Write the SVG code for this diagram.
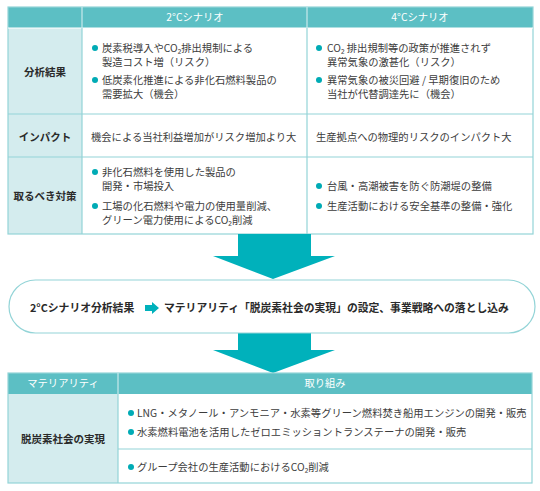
<svg xmlns="http://www.w3.org/2000/svg" width="540" height="491" viewBox="0 0 540 491">
<style>
text{font-family:"Noto Sans CJK JP","Noto Sans",sans-serif;fill:#3c3c3c}
.b{font-size:10.3px}
.h{font-size:10.3px;fill:#fff;text-anchor:middle}
.l{font-size:10.5px;font-weight:bold;text-anchor:middle;fill:#2a2a2a}
.m{font-size:10.8px;font-weight:bold;fill:#2a2a2a}
.hd{fill:#5cbfc4}
.lb{fill:#d4ecee}
.ln{stroke:#93d4d7;stroke-width:1.2;fill:none}
.dot{fill:#00abb5}
.ar{fill:#00b1bb}
</style>
<rect width="540" height="491" fill="#fff"/>

<g id="top-table">
<rect class="hd" x="8" y="7" width="525" height="21"/>
<rect class="lb" x="8" y="28" width="74" height="206"/>
<rect class="ln" x="8" y="7" width="525" height="227"/>
<line class="ln" x1="8" y1="28" x2="533" y2="28" style="stroke:#fff"/>
<line class="ln" x1="82" y1="7" x2="82" y2="28" style="stroke:#c8eaec"/>
<line class="ln" x1="307" y1="7" x2="307" y2="28" style="stroke:#c8eaec"/>
<line class="ln" x1="82" y1="28" x2="82" y2="234"/>
<line class="ln" x1="307" y1="28" x2="307" y2="234"/>
<line class="ln" x1="8" y1="114" x2="533" y2="114"/>
<line class="ln" x1="8" y1="157" x2="533" y2="157"/>
<text class="h" x="195" y="21">2°Cシナリオ</text>
<text class="h" x="420" y="21">4°Cシナリオ</text>
</g>

<g id="row-analysis">
<text class="l" x="45" y="76">分析結果</text>
<circle class="dot" cx="95" cy="48" r="3"/>
<text class="b" x="102" y="52">炭素税導入やCO₂排出規制による</text>
<text class="b" x="102" y="66">製造コスト増（リスク）</text>
<circle class="dot" cx="95" cy="80" r="3"/>
<text class="b" x="102" y="84">低炭素化推進による非化石燃料製品の</text>
<text class="b" x="102" y="98">需要拡大（機会）</text>
<circle class="dot" cx="319" cy="48" r="3"/>
<text class="b" x="327" y="52">CO₂ 排出規制等の政策が推進されず</text>
<text class="b" x="327" y="66">異常気象の激甚化（リスク）</text>
<circle class="dot" cx="319" cy="80" r="3"/>
<text class="b" x="327" y="84">異常気象の被災回避 / 早期復旧のため</text>
<text class="b" x="327" y="98">当社が代替調達先に（機会）</text>
</g>

<g id="row-impact">
<text class="l" x="45" y="141">インパクト</text>
<text class="b" x="91" y="141">機会による当社利益増加がリスク増加より大</text>
<text class="b" x="316" y="141">生産拠点への物理的リスクのインパクト大</text>
</g>

<g id="row-measures">
<text class="l" x="45" y="200">取るべき対策</text>
<circle class="dot" cx="95" cy="172" r="3"/>
<text class="b" x="102" y="176">非化石燃料を使用した製品の</text>
<text class="b" x="102" y="190">開発・市場投入</text>
<circle class="dot" cx="95" cy="206" r="3"/>
<text class="b" x="102" y="209.5">工場の化石燃料や電力の使用量削減、</text>
<text class="b" x="102" y="224">グリーン電力使用によるCO₂削減</text>
<circle class="dot" cx="319" cy="186" r="3"/>
<text class="b" x="327" y="190">台風・高潮被害を防ぐ防潮堤の整備</text>
<circle class="dot" cx="319" cy="206" r="3"/>
<text class="b" x="327" y="210">生産活動における安全基準の整備・強化</text>
</g>

<g id="connectors">
<polygon class="ar" points="238,234 311,234 311,256 335,256 273,279 213,256 238,256"/>
<polygon class="ar" points="238,333 311,333 311,350 335,350 273,373 213,350 238,350"/>
</g>

<g id="conclusion">
<rect x="9" y="280" width="526" height="53" rx="26.5" fill="#fff" stroke="#93d4d7" stroke-width="1.2"/>
<text class="m" x="30" y="312">2°Cシナリオ分析結果</text>
<polygon class="ar" points="145,305 152,305 152,302 159,308 152,314 152,311 145,311"/>
<text class="m" x="164" y="312">マテリアリティ「脱炭素社会の実現」の設定、事業戦略への落とし込み</text>
</g>

<g id="bottom-table">
<rect class="hd" x="8" y="373" width="524" height="21"/>
<rect class="lb" x="8" y="394" width="110" height="89"/>
<rect class="ln" x="8" y="373" width="524" height="110"/>
<line class="ln" x1="118" y1="373" x2="118" y2="394" style="stroke:#c8eaec"/>
<line class="ln" x1="118" y1="394" x2="118" y2="483"/>
<line class="ln" x1="118" y1="449" x2="532" y2="449"/>
<text class="h" x="63" y="387">マテリアリティ</text>
<text class="h" x="325" y="387">取り組み</text>
<text class="l" x="63" y="443">脱炭素社会の実現</text>
<circle class="dot" cx="131" cy="413" r="3"/>
<text class="b" x="137" y="417">LNG・メタノール・アンモニア・水素等グリーン燃料焚き船用エンジンの開発・販売</text>
<circle class="dot" cx="131" cy="432" r="3"/>
<text class="b" x="137" y="436">水素燃料電池を活用したゼロエミッショントランステーナの開発・販売</text>
<circle class="dot" cx="131" cy="467" r="3"/>
<text class="b" x="137" y="471">グループ会社の生産活動におけるCO₂削減</text>
</g>
</svg>
